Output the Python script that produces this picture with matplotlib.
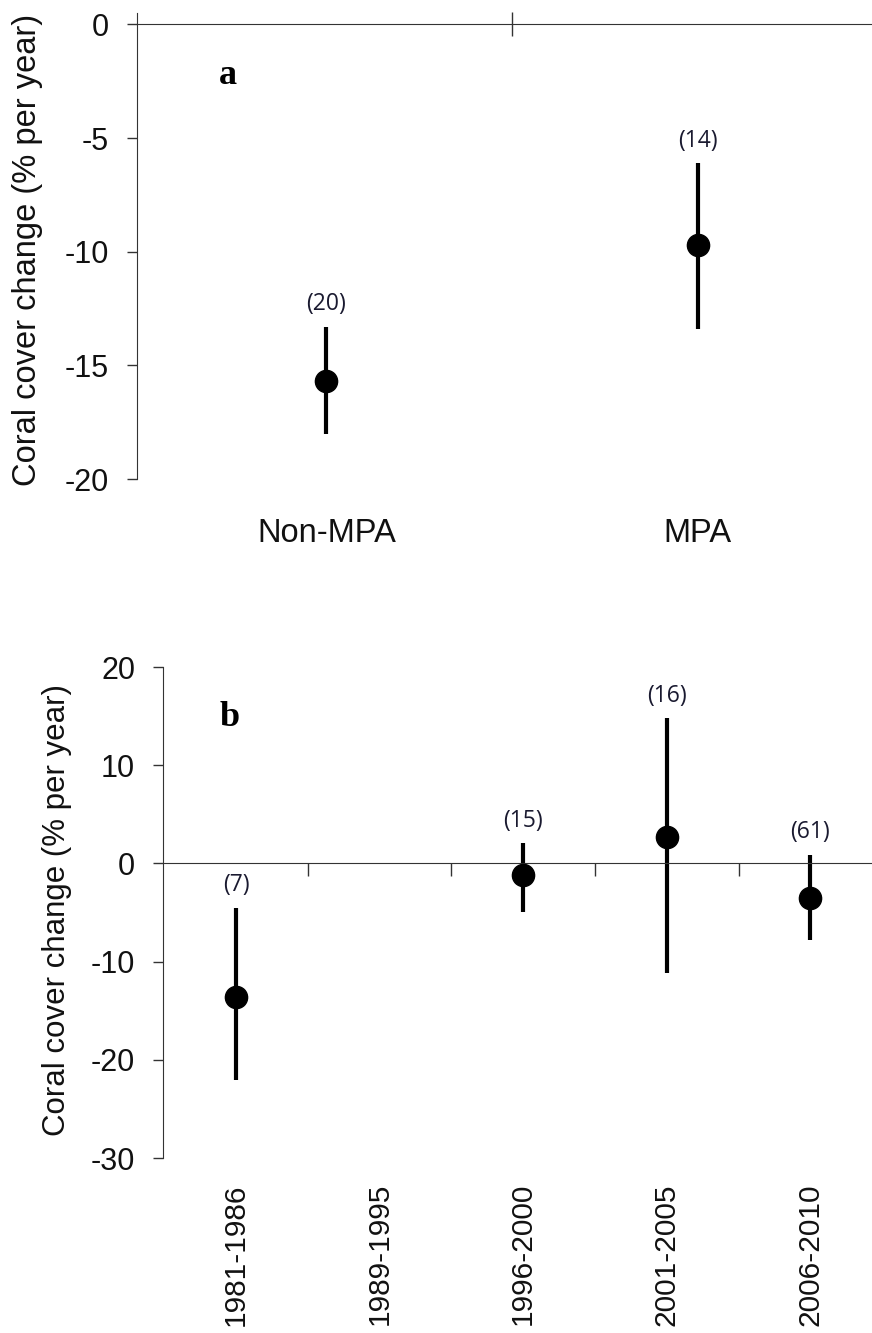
import matplotlib
matplotlib.use('Agg')
import matplotlib.pyplot as plt
import matplotlib.transforms as mtransforms
import numpy as np

# Panel a: MPA status
mpa_cats = ['Non-MPA', 'MPA']
mpa_mean = [-15.7, -9.7]
mpa_low = [-18.0, -13.4]
mpa_high = [-13.3, -6.1]
mpa_n = ['(20)', '(14)']

# Panel b: time periods
period_cats = ['1981-1986', '1989-1995', '1996-2000', '2001-2005', '2006-2010']
period_mean = [-13.6, np.nan, -1.2, 2.7, -3.5]
period_low = [-22.1, np.nan, -4.9, -11.2, -7.8]
period_high = [-4.5, np.nan, 2.1, 14.8, 0.9]
period_n = ['(7)', '', '(15)', '(16)', '(61)']

plt.rcParams['font.family'] = ['Liberation Sans', 'DejaVu Sans']
plt.rcParams['axes.unicode_minus'] = False
W, H = 872, 1333
fig = plt.figure(figsize=(W / 100, H / 100), dpi=100)

spine_col = '#333333'
ylab = 'Coral cover change (% per year)'


def style_axes(ax):
    for s in ['top', 'right']:
        ax.spines[s].set_visible(False)
    ax.spines['left'].set_color(spine_col)
    ax.spines['bottom'].set_color(spine_col)
    ax.spines['bottom'].set_position(('data', 0))
    ax.tick_params(axis='y', length=7, width=1, color=spine_col, pad=13,
                   labelsize=22, labelcolor='#111111')
    ax.tick_params(axis='x', labelbottom=False, color=spine_col, width=1)


def draw_points(ax, x, mean, low, high, labels):
    mean = np.array(mean, dtype=float)
    low = np.array(low, dtype=float)
    high = np.array(high, dtype=float)
    ok = ~np.isnan(mean)
    ax.vlines(x[ok], low[ok], high[ok], color='black', lw=3)
    ax.plot(x[ok], mean[ok], 'o', color='black', markersize=16, zorder=3)
    for xi, hi, lab in zip(x, high, labels):
        if lab:
            ax.annotate(lab, xy=(xi, hi), xytext=(0, 16), textcoords='offset points',
                        ha='center', va='center', fontsize=16.5, color='#1a1a30',
                        family='Open Sans')


# ---- panel a
ax1 = fig.add_axes([137 / W, 1 - 479 / H, 1 - 137 / W, (479 - 13) / H])
style_axes(ax1)
xa = np.arange(1, len(mpa_cats) + 1)
draw_points(ax1, xa, mpa_mean, mpa_low, mpa_high, mpa_n)
ax1.set_xlim(0.49, 2.47)
ax1.set_ylim(-20, 0.5)
ax1.set_yticks([0, -5, -10, -15, -20])
ax1.set_xticks((xa[:-1] + xa[1:]) / 2)
ax1.tick_params(axis='x', direction='inout', length=17)
trans1 = mtransforms.blended_transform_factory(ax1.transData, ax1.transAxes)
for xi, c in zip(xa, mpa_cats):
    ax1.annotate(c, xy=(xi, 0), xycoords=trans1, xytext=(0, -39),
                 textcoords='offset points', ha='center', va='center',
                 fontsize=23.5, color='#111111')
fig.text(228 / W, 1 - 75 / H, 'a', family='Liberation Serif', fontweight='bold',
         fontsize=26, ha='center', va='center')
fig.text(28 / W, 1 - 250 / H, ylab, rotation=90, ha='center', va='center',
         fontsize=23.5, color='#111111')

# ---- panel b
ax2 = fig.add_axes([163 / W, 1 - 1158 / H, 1 - 163 / W, (1158 - 667) / H])
style_axes(ax2)
xb = np.arange(1, len(period_cats) + 1)
draw_points(ax2, xb, period_mean, period_low, period_high, period_n)
ax2.set_xlim(0.49, 5.43)
ax2.set_ylim(-30, 20)
ax2.set_yticks([20, 10, 0, -10, -20, -30])
ax2.set_xticks((xb[:-1] + xb[1:]) / 2)
ax2.tick_params(axis='x', direction='out', length=9)
trans2 = mtransforms.blended_transform_factory(ax2.transData, ax2.transAxes)
for xi, c in zip(xb, period_cats):
    ax2.annotate(c, xy=(xi, 0), xycoords=trans2, xytext=(0, -18),
                 textcoords='offset points', ha='center', va='top', rotation=90,
                 fontsize=21.5, color='#111111')
fig.text(230 / W, 1 - 718 / H, 'b', family='Liberation Serif', fontweight='bold',
         fontsize=26, ha='center', va='center')
fig.text(57 / W, 1 - 910 / H, ylab, rotation=90, ha='center', va='center',
         fontsize=22.5, color='#111111')

fig.savefig('out.png', dpi=100, facecolor='white')
